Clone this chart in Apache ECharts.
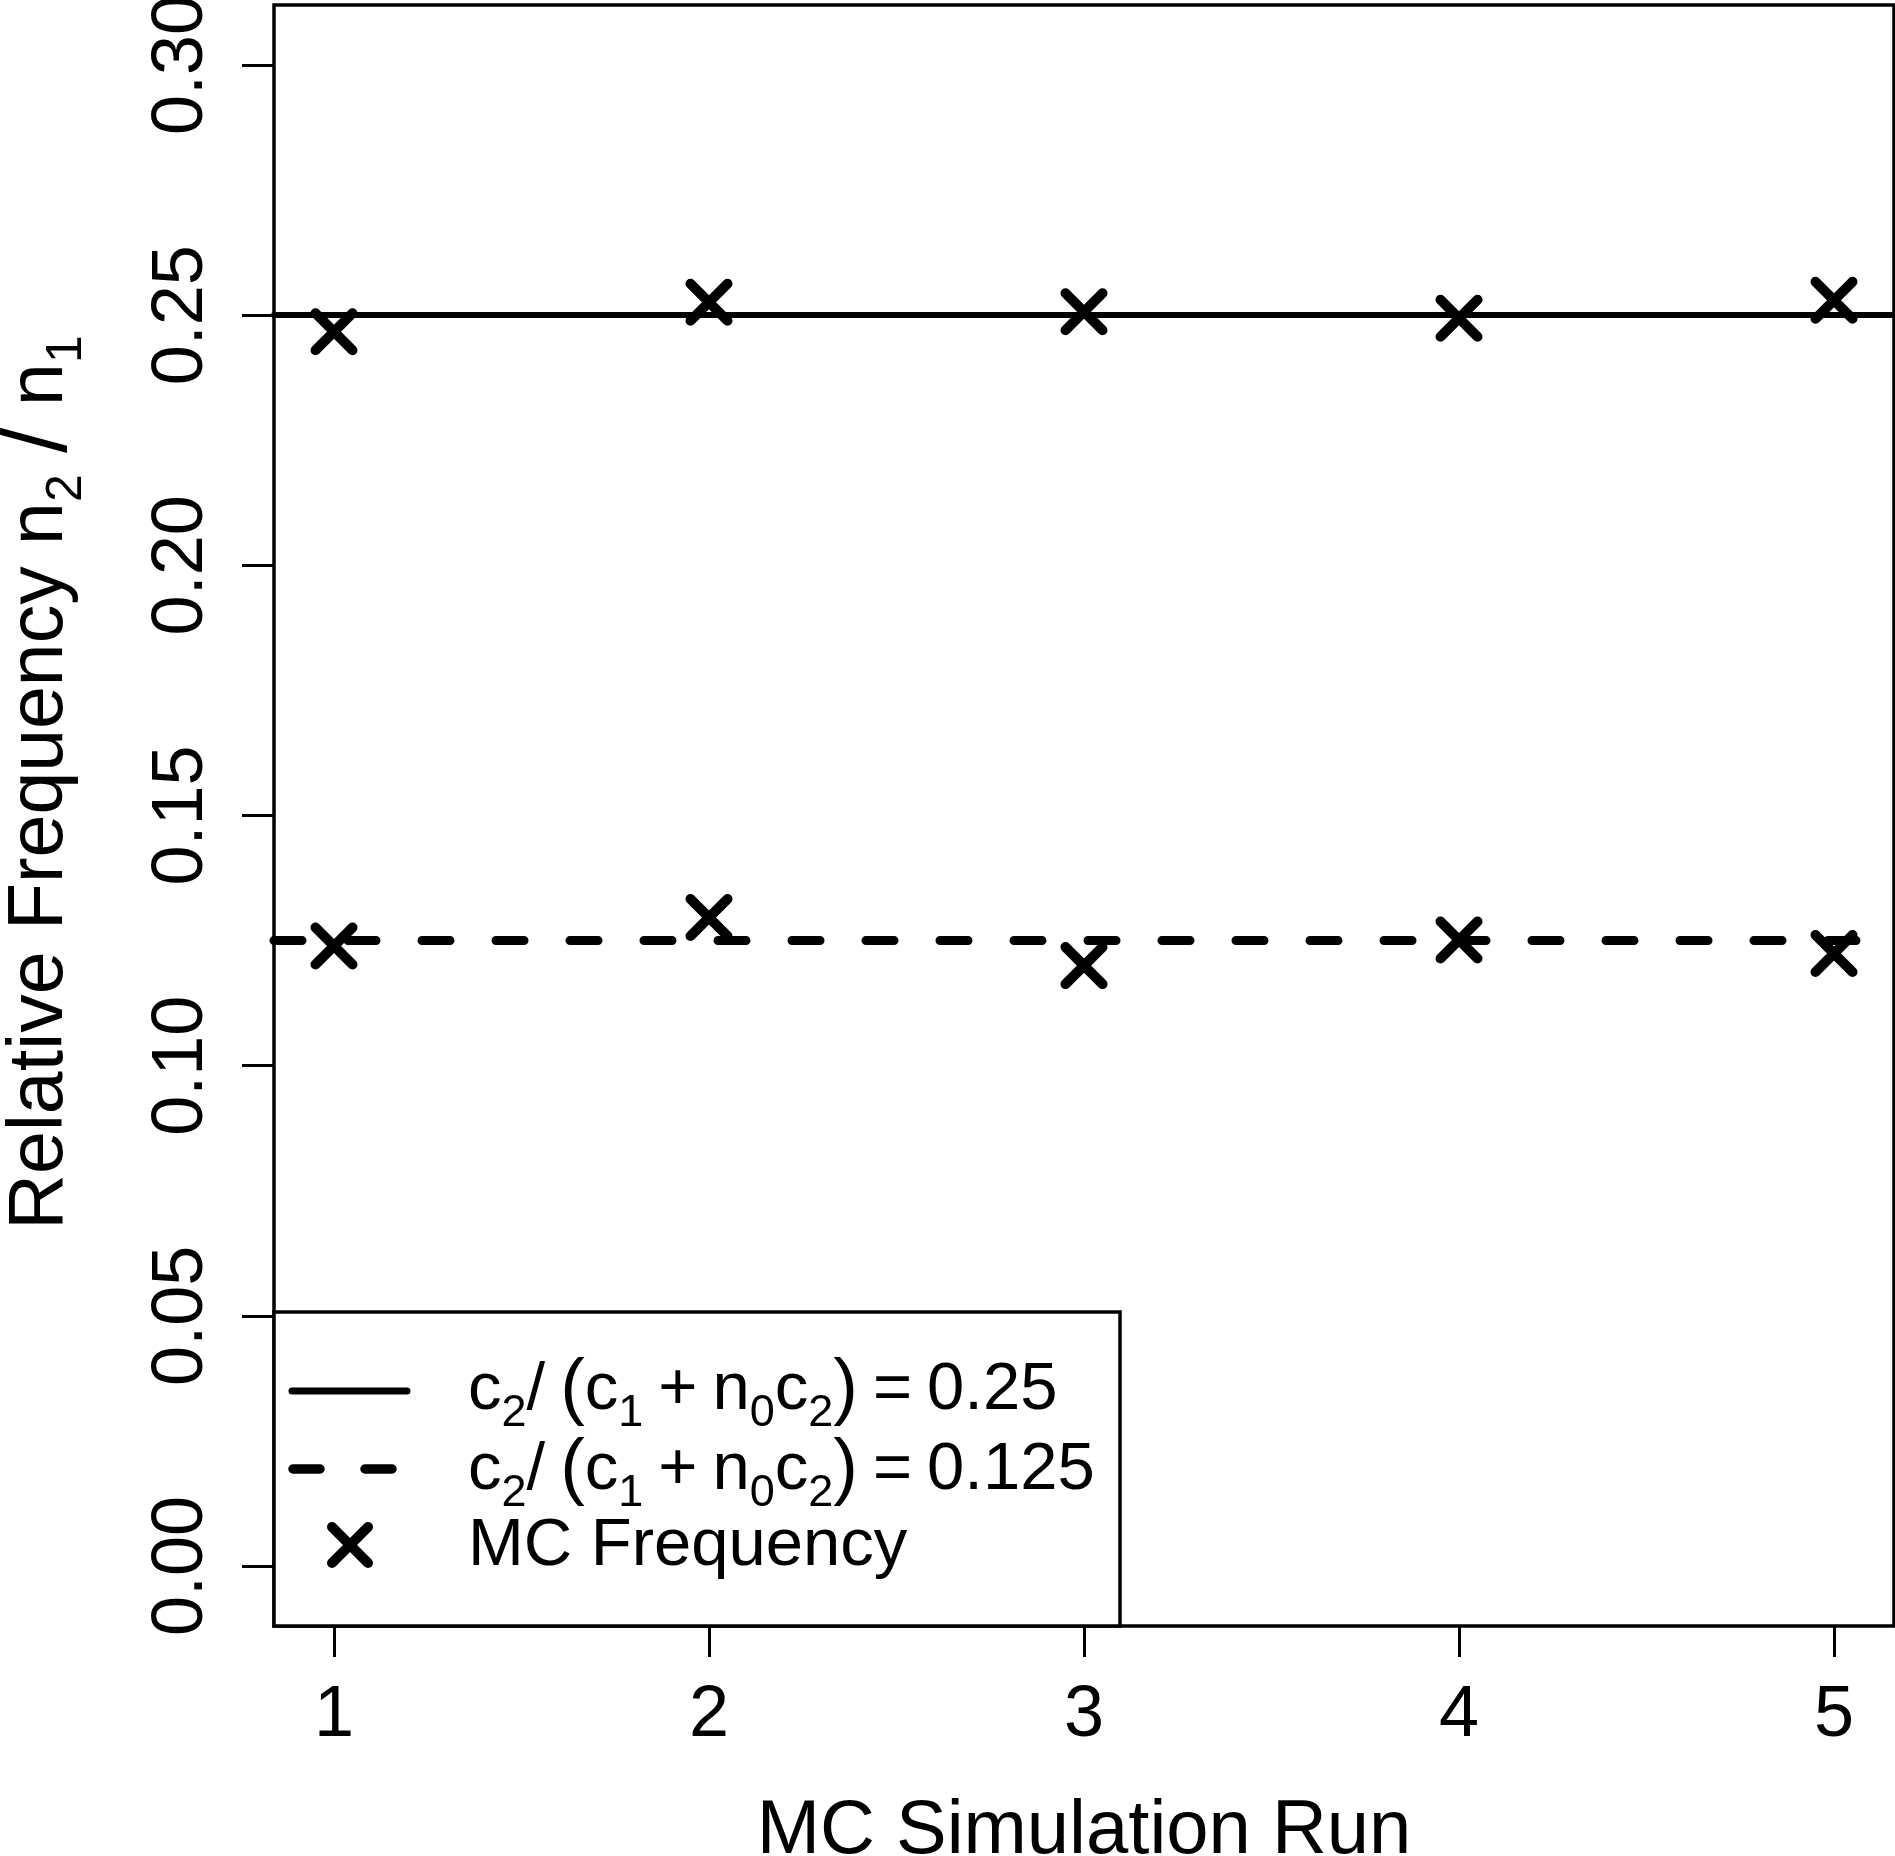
<!DOCTYPE html>
<html>
<head>
<meta charset="utf-8">
<script src="https://cdn.jsdelivr.net/npm/echarts@6/dist/echarts.min.js"></script>
<style>
  html, body { margin: 0; padding: 0; background: #fff; }
  #chart { width: 1895px; height: 1856px; }
</style>
</head>
<body>
<div id="chart"></div>
<script>
// MC simulation runs and the measured relative frequencies n2/n1
const runs = [1, 2, 3, 4, 5]
const freqHigh = [0.2467, 0.2526, 0.2507, 0.2494, 0.2530]
const freqLow = [0.1239, 0.1296, 0.1200, 0.1251, 0.1224]
const refLevels = [0.25, 0.125]
const yTicks = [0, 0.05, 0.10, 0.15, 0.20, 0.25, 0.30]
const xTicks = [1, 2, 3, 4, 5]

const FONT = 'Liberation Sans'
const BLACK = '#000'

const chart = echarts.init(document.getElementById('chart'), null, { renderer: 'canvas' })

// X marker drawn as a stroked path (like R pch = 4)
const crossSymbol = 'path://M0,0L10,10M10,0L0,10'
const crossStyle = {
  color: 'rgba(0,0,0,0)',
  borderColor: BLACK,
  borderWidth: 10,
  borderCap: 'round',
  opacity: 1
}

// legend rich text: c2/(c1 + n0c2) = value
function legendExpr(value) {
  return '{m|c}{s|2}{m|/}{g| }{p|(}{m|c}{s|1}{g| }{m|+}{g| }{m|n}{s|0}{m|c}{s|2}{p|)}{g| }{m|=}{g| }{m|' + value + '}'
}

const legendRich = {
  m: { fontFamily: FONT, fontSize: 67, lineHeight: 67, color: BLACK },
  g: { fontFamily: FONT, fontSize: 54, lineHeight: 54, color: BLACK },
  s: { fontFamily: FONT, fontSize: 45, lineHeight: 45, padding: [46, 0, 0, 0], color: BLACK },
  p: { fontFamily: FONT, fontSize: 74, lineHeight: 74, color: BLACK }
}

const legendLeft = 274
const legendTop = 1312
const rowY = [1391, 1469, 1545]

const option = {
  animation: false,
  backgroundColor: '#fff',
  grid: {
    left: 274,
    top: 5,
    width: 1620,
    height: 1621,
    show: true,
    borderColor: BLACK,
    borderWidth: 3.5,
    backgroundColor: 'transparent',
    outerBoundsMode: 'none'
  },
  xAxis: {
    type: 'value',
    min: 0.84,
    max: 5.16,
    name: 'MC Simulation Run',
    nameLocation: 'middle',
    nameGap: 168,
    nameMoveOverlap: false,
    nameTextStyle: { fontFamily: FONT, fontSize: 76, color: BLACK },
    axisLine: { show: false, onZero: false },
    splitLine: { show: false },
    axisTick: {
      show: true,
      length: 31,
      customValues: xTicks,
      lineStyle: { color: BLACK, width: 3 }
    },
    axisLabel: {
      customValues: xTicks,
      margin: 54,
      fontFamily: FONT,
      fontSize: 72,
      color: BLACK,
      formatter: (v) => String(v)
    }
  },
  yAxis: {
    type: 'value',
    min: -0.012,
    max: 0.312,
    name: '{m|Relative Frequency n}{s|2}{m| }{l|/}{m| n}{s|1}',
    nameLocation: 'middle',
    nameRotate: 90,
    nameGap: 187,
    nameMoveOverlap: false,
    nameTextStyle: {
      padding: [0, 0, 0, 66],
      rich: {
        m: { fontFamily: FONT, fontSize: 77, lineHeight: 77, color: BLACK },
        l: { fontFamily: FONT, fontSize: 92, lineHeight: 92, color: BLACK },
        s: { fontFamily: FONT, fontSize: 50, lineHeight: 50, padding: [52, 0, 0, 0], color: BLACK }
      }
    },
    axisLine: { show: false, onZero: false },
    splitLine: { show: false },
    axisTick: {
      show: true,
      length: 32,
      customValues: yTicks,
      lineStyle: { color: BLACK, width: 3 }
    },
    axisLabel: {
      customValues: yTicks,
      rotate: 90,
      margin: 56,
      fontFamily: FONT,
      fontSize: 72,
      color: BLACK,
      formatter: (v) => v.toFixed(2)
    }
  },
  series: [
    {
      name: 'MC Frequency',
      type: 'scatter',
      z: 5,
      symbol: crossSymbol,
      symbolSize: 37,
      itemStyle: crossStyle,
      emphasis: { disabled: true },
      data: runs.map((r, i) => [r, freqHigh[i]]),
      markLine: {
        silent: true,
        precision: 6,
        symbol: ['none', 'none'],
        label: { show: false },
        emphasis: { disabled: true },
        data: [
          { yAxis: refLevels[0], lineStyle: { color: BLACK, width: 6, type: 'solid', cap: 'round' } },
          { yAxis: refLevels[1], lineStyle: { color: BLACK, width: 9, type: [28, 46], cap: 'round' } }
        ]
      }
    },
    {
      name: 'MC Frequency',
      type: 'scatter',
      z: 5,
      symbol: crossSymbol,
      symbolSize: 37,
      itemStyle: crossStyle,
      emphasis: { disabled: true },
      data: runs.map((r, i) => [r, freqLow[i]])
    }
  ],
  graphic: [
    {
      type: 'group',
      z: 100,
      children: [
        {
          type: 'rect',
          shape: { x: legendLeft, y: legendTop, width: 846, height: 1626 - legendTop },
          style: { fill: '#fff', stroke: BLACK, lineWidth: 3.5 }
        },
        {
          type: 'line',
          shape: { x1: 292, y1: rowY[0], x2: 407, y2: rowY[0] },
          style: { stroke: BLACK, lineWidth: 7, lineCap: 'round' }
        },
        {
          type: 'line',
          shape: { x1: 293, y1: rowY[1], x2: 395, y2: rowY[1] },
          style: { stroke: BLACK, lineWidth: 9.5, lineCap: 'round', lineDash: [27, 45] }
        },
        {
          type: 'line',
          shape: { x1: 332, y1: rowY[2] - 18, x2: 368, y2: rowY[2] + 18 },
          style: { stroke: BLACK, lineWidth: 10, lineCap: 'round' }
        },
        {
          type: 'line',
          shape: { x1: 368, y1: rowY[2] - 18, x2: 332, y2: rowY[2] + 18 },
          style: { stroke: BLACK, lineWidth: 10, lineCap: 'round' }
        },
        {
          type: 'text',
          x: 468,
          y: rowY[0],
          style: { text: legendExpr('0.25'), rich: legendRich, verticalAlign: 'middle', align: 'left' }
        },
        {
          type: 'text',
          x: 468,
          y: rowY[1] + 2,
          style: { text: legendExpr('0.125'), rich: legendRich, verticalAlign: 'middle', align: 'left' }
        },
        {
          type: 'text',
          x: 468,
          y: rowY[2] + 2,
          style: {
            text: 'MC Frequency',
            fontFamily: FONT,
            fontSize: 67,
            fill: BLACK,
            verticalAlign: 'middle',
            align: 'left'
          }
        }
      ]
    }
  ]
}

chart.setOption(option)

window.addEventListener('resize', () => {
  chart.resize()
})
</script>
</body>
</html>
